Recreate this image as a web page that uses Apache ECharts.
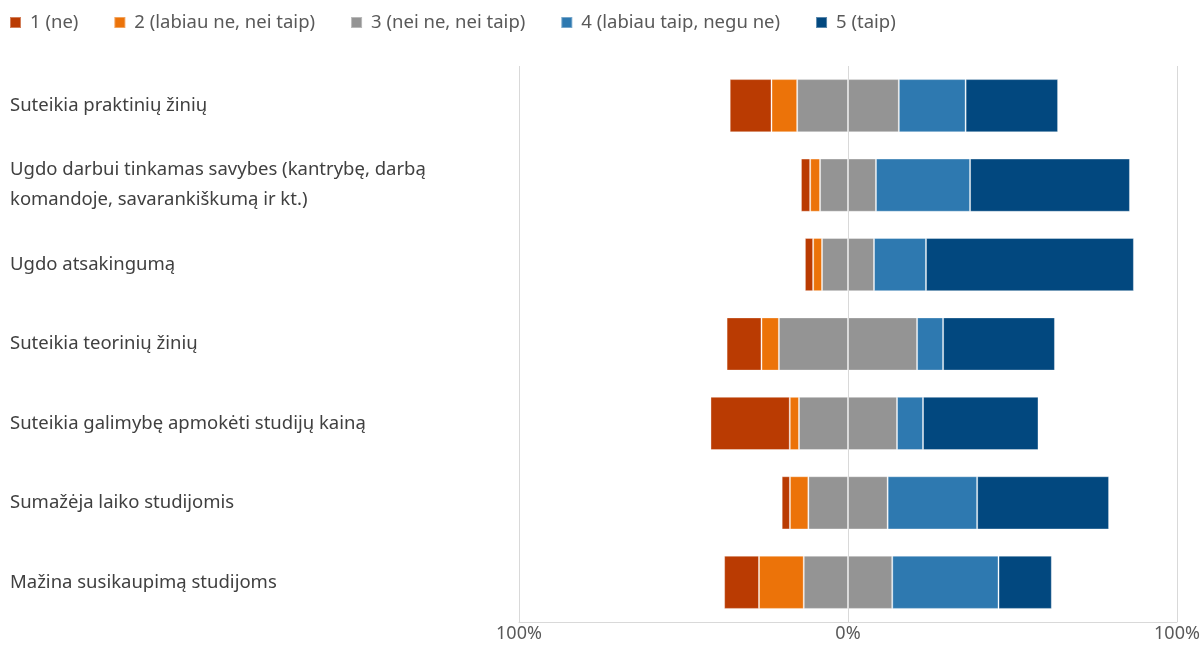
<!DOCTYPE html>
<html>
<head>
<meta charset="utf-8">
<script src="https://cdn.jsdelivr.net/npm/echarts@6/dist/echarts.min.js"></script>
<style>
  html, body { margin: 0; padding: 0; background: #fff; }
  #chart { width: 1204px; height: 646px; }
</style>
</head>
<body>
<div id="chart"></div>
<script>
// kategorijos (nuo viršaus)
const categories = [
  'Suteikia praktinių žinių',
  'Ugdo darbui tinkamas savybes (kantrybę, darbą\nkomandoje, savarankiškumą ir kt.)',
  'Ugdo atsakingumą',
  'Suteikia teorinių žinių',
  'Suteikia galimybę apmokėti studijų kainą',
  'Sumažėja laiko studijomis',
  'Mažina susikaupimą studijoms'
];

const legendNames = ['1 (ne)', '2 (labiau ne, nei taip)', '3 (nei ne, nei taip)', '4 (labiau taip, negu ne)', '5 (taip)'];

// procentai
const ne = [12.7, 2.8, 2.5, 10.6, 24.1, 2.5, 10.6];
const labiauNe = [7.8, 3.0, 2.7, 5.3, 2.8, 5.6, 13.6];
const neutralu = [30.9, 17.0, 15.8, 42.0, 29.8, 24.1, 26.9];
const labiauTaip = [20.3, 28.6, 15.8, 7.9, 7.9, 27.2, 32.3];
const taip = [28.1, 48.6, 63.2, 34.0, 35.1, 40.1, 16.2];

const xTicks = [-100, 0, 100];

const colors = ['#BA3B02', '#EC7309', '#949494', '#2E79B0', '#02487F'];
const font = 'Noto Sans';

const chart = echarts.init(document.getElementById('chart'));

// bendras stilius juostoms
const bar = (name, data, color) => ({
  name: name,
  type: 'bar',
  stack: 'total',
  barCategoryGap: '33%',
  data: data,
  itemStyle: { color: color, borderColor: 'rgba(255,255,255,0.35)', borderWidth: 1 },
  emphasis: { disabled: true }
});

const option = {
  animation: false,
  color: colors,
  legend: {
    data: legendNames,
    left: 4,
    top: 8,
    itemWidth: 11,
    itemHeight: 11,
    itemGap: 35,
    icon: 'rect',
    textStyle: { fontFamily: font, fontSize: 18.5, color: '#595959', padding: [0, 0, 0, 4] }
  },
  grid: { left: 519, right: 27, top: 66, bottom: 24 },
  xAxis: {
    type: 'value',
    min: xTicks[0],
    max: xTicks[xTicks.length - 1],
    interval: 100,
    axisLine: { show: true, lineStyle: { color: '#d9d9d9' } },
    axisTick: { show: false },
    splitLine: { lineStyle: { color: '#d9d9d9' } },
    axisLabel: {
      fontFamily: font, fontSize: 18, color: '#595959', margin: 3,
      formatter: v => Math.abs(v) + '%'
    }
  },
  yAxis: {
    type: 'category',
    inverse: true,
    data: categories,
    axisLine: { show: false },
    axisTick: { show: false },
    axisLabel: {
      align: 'left',
      margin: 509,
      fontFamily: font,
      fontSize: 18.5,
      lineHeight: 30,
      color: '#404040',
      padding: [4, 0, 0, 0]
    }
  },
  series: [
    bar(legendNames[2], neutralu.map(v => -v / 2), colors[2]),
    bar(legendNames[1], labiauNe.map(v => -v), colors[1]),
    bar(legendNames[0], ne.map(v => -v), colors[0]),
    bar(legendNames[2], neutralu.map(v => v / 2), colors[2]),
    bar(legendNames[3], labiauTaip, colors[3]),
    Object.assign(bar(legendNames[4], taip, colors[4]), {
      markLine: {
        silent: true,
        symbol: 'none',
        label: { show: false },
        lineStyle: { color: '#d9d9d9', width: 1, type: 'solid' },
        data: [{ xAxis: 0 }]
      }
    })
  ]
};

chart.setOption(option);
</script>
</body>
</html>
